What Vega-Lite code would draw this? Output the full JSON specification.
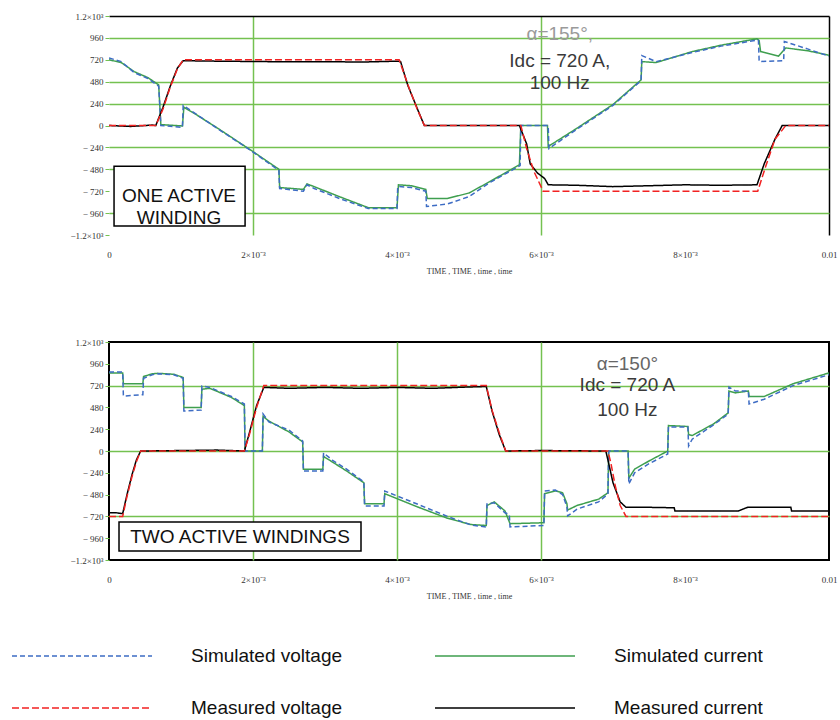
{
"$schema": "https://vega.github.io/schema/vega-lite/v6.json",
"background": "white",
"padding": {"left": 10, "top": 12, "right": 0, "bottom": 0},
"spacing": 62,
"config": {
  "view": {"stroke": null},
  "axis": {"labelFont": "Liberation Serif", "labelFontSize": 9, "labelColor": "#333", "titleFont": "Liberation Serif", "titleFontSize": 8, "titleFontWeight": "normal", "titleColor": "#333"},
  "legend": {"orient": "none", "legendX": -98, "legendY": 629, "direction": "horizontal", "columns": 2, "symbolType": "M-1,0H13", "symbolSize": 400, "labelFont": "Liberation Sans", "labelFontSize": 19, "labelColor": "#111", "labelOffset": 158, "columnPadding": 89, "rowPadding": 31, "padding": 0, "labelLimit": 300}
},
"datasets": {
"top": [
{"s":"Simulated current","t":0,"v":720},{"s":"Simulated current","t":0.00017,"v":690},{"s":"Simulated current","t":0.00035,"v":590},{"s":"Simulated current","t":0.00054,"v":525},{"s":"Simulated current","t":0.00069,"v":445},{"s":"Simulated current","t":0.0007,"v":300},{"s":"Simulated current","t":0.00072,"v":10},{"s":"Simulated current","t":0.00102,"v":-5},{"s":"Simulated current","t":0.00104,"v":200},{"s":"Simulated current","t":0.0012,"v":125},{"s":"Simulated current","t":0.0015,"v":-25},{"s":"Simulated current","t":0.00197,"v":-270},{"s":"Simulated current","t":0.00236,"v":-480},{"s":"Simulated current","t":0.00237,"v":-680},{"s":"Simulated current","t":0.0027,"v":-700},{"s":"Simulated current","t":0.00275,"v":-640},{"s":"Simulated current","t":0.00285,"v":-670},{"s":"Simulated current","t":0.0032,"v":-780},{"s":"Simulated current","t":0.0036,"v":-900},{"s":"Simulated current","t":0.004,"v":-900},{"s":"Simulated current","t":0.00402,"v":-650},{"s":"Simulated current","t":0.0042,"v":-660},{"s":"Simulated current","t":0.0044,"v":-700},{"s":"Simulated current","t":0.00442,"v":-800},{"s":"Simulated current","t":0.0047,"v":-800},{"s":"Simulated current","t":0.005,"v":-740},{"s":"Simulated current","t":0.0053,"v":-610},{"s":"Simulated current","t":0.0057,"v":-430},{"s":"Simulated current","t":0.00572,"v":0},{"s":"Simulated current","t":0.00609,"v":0},{"s":"Simulated current","t":0.0061,"v":-230},{"s":"Simulated current","t":0.0065,"v":-30},{"s":"Simulated current","t":0.007,"v":230},{"s":"Simulated current","t":0.00739,"v":500},{"s":"Simulated current","t":0.0074,"v":700},{"s":"Simulated current","t":0.0076,"v":690},{"s":"Simulated current","t":0.0081,"v":810},{"s":"Simulated current","t":0.0085,"v":880},{"s":"Simulated current","t":0.009,"v":950},{"s":"Simulated current","t":0.00903,"v":930},{"s":"Simulated current","t":0.00905,"v":810},{"s":"Simulated current","t":0.0093,"v":760},{"s":"Simulated current","t":0.0094,"v":850},{"s":"Simulated current","t":0.0097,"v":820},{"s":"Simulated current","t":0.01,"v":770},
{"s":"Simulated voltage","t":0,"v":740},{"s":"Simulated voltage","t":0.00017,"v":700},{"s":"Simulated voltage","t":0.00035,"v":580},{"s":"Simulated voltage","t":0.00054,"v":515},{"s":"Simulated voltage","t":0.00069,"v":430},{"s":"Simulated voltage","t":0.0007,"v":300},{"s":"Simulated voltage","t":0.00072,"v":0},{"s":"Simulated voltage","t":0.00102,"v":-20},{"s":"Simulated voltage","t":0.00103,"v":220},{"s":"Simulated voltage","t":0.0012,"v":130},{"s":"Simulated voltage","t":0.0015,"v":-30},{"s":"Simulated voltage","t":0.00197,"v":-274},{"s":"Simulated voltage","t":0.00236,"v":-493},{"s":"Simulated voltage","t":0.00237,"v":-690},{"s":"Simulated voltage","t":0.0027,"v":-720},{"s":"Simulated voltage","t":0.00275,"v":-650},{"s":"Simulated voltage","t":0.00285,"v":-690},{"s":"Simulated voltage","t":0.0032,"v":-800},{"s":"Simulated voltage","t":0.0036,"v":-910},{"s":"Simulated voltage","t":0.004,"v":-910},{"s":"Simulated voltage","t":0.00401,"v":-668},{"s":"Simulated voltage","t":0.0042,"v":-680},{"s":"Simulated voltage","t":0.0044,"v":-720},{"s":"Simulated voltage","t":0.00441,"v":-888},{"s":"Simulated voltage","t":0.0047,"v":-860},{"s":"Simulated voltage","t":0.005,"v":-780},{"s":"Simulated voltage","t":0.0053,"v":-620},{"s":"Simulated voltage","t":0.00571,"v":-440},{"s":"Simulated voltage","t":0.00572,"v":0},{"s":"Simulated voltage","t":0.0061,"v":0},{"s":"Simulated voltage","t":0.00611,"v":-252},{"s":"Simulated voltage","t":0.0065,"v":-40},{"s":"Simulated voltage","t":0.007,"v":220},{"s":"Simulated voltage","t":0.00739,"v":493},{"s":"Simulated voltage","t":0.0074,"v":767},{"s":"Simulated voltage","t":0.0076,"v":700},{"s":"Simulated voltage","t":0.0081,"v":800},{"s":"Simulated voltage","t":0.0085,"v":870},{"s":"Simulated voltage","t":0.009,"v":935},{"s":"Simulated voltage","t":0.00902,"v":935},{"s":"Simulated voltage","t":0.00903,"v":701},{"s":"Simulated voltage","t":0.00937,"v":710},{"s":"Simulated voltage","t":0.00938,"v":920},{"s":"Simulated voltage","t":0.0097,"v":840},{"s":"Simulated voltage","t":0.01,"v":760},
{"s":"Measured current","t":0,"v":0},{"s":"Measured current","t":0.0003,"v":-10},{"s":"Measured current","t":0.0006,"v":5},{"s":"Measured current","t":0.00065,"v":0},{"s":"Measured current","t":0.00075,"v":200},{"s":"Measured current","t":0.00085,"v":430},{"s":"Measured current","t":0.00095,"v":630},{"s":"Measured current","t":0.00103,"v":710},{"s":"Measured current","t":0.0015,"v":705},{"s":"Measured current","t":0.0022,"v":700},{"s":"Measured current","t":0.003,"v":700},{"s":"Measured current","t":0.0035,"v":695},{"s":"Measured current","t":0.004,"v":705},{"s":"Measured current","t":0.00405,"v":700},{"s":"Measured current","t":0.00415,"v":440},{"s":"Measured current","t":0.0043,"v":150},{"s":"Measured current","t":0.00438,"v":0},{"s":"Measured current","t":0.005,"v":0},{"s":"Measured current","t":0.0057,"v":0},{"s":"Measured current","t":0.0058,"v":-200},{"s":"Measured current","t":0.00585,"v":-420},{"s":"Measured current","t":0.00595,"v":-520},{"s":"Measured current","t":0.00605,"v":-580},{"s":"Measured current","t":0.0061,"v":-650},{"s":"Measured current","t":0.0065,"v":-655},{"s":"Measured current","t":0.007,"v":-670},{"s":"Measured current","t":0.0075,"v":-660},{"s":"Measured current","t":0.008,"v":-650},{"s":"Measured current","t":0.0085,"v":-655},{"s":"Measured current","t":0.009,"v":-650},{"s":"Measured current","t":0.0091,"v":-420},{"s":"Measured current","t":0.00925,"v":-150},{"s":"Measured current","t":0.00935,"v":0},{"s":"Measured current","t":0.01,"v":0},
{"s":"Measured voltage","t":0,"v":0},{"s":"Measured voltage","t":0.00065,"v":0},{"s":"Measured voltage","t":0.00075,"v":180},{"s":"Measured voltage","t":0.00085,"v":420},{"s":"Measured voltage","t":0.00095,"v":620},{"s":"Measured voltage","t":0.00103,"v":720},{"s":"Measured voltage","t":0.00403,"v":720},{"s":"Measured voltage","t":0.00415,"v":450},{"s":"Measured voltage","t":0.00428,"v":180},{"s":"Measured voltage","t":0.00438,"v":0},{"s":"Measured voltage","t":0.00572,"v":0},{"s":"Measured voltage","t":0.0058,"v":-250},{"s":"Measured voltage","t":0.0059,"v":-500},{"s":"Measured voltage","t":0.00603,"v":-720},{"s":"Measured voltage","t":0.00901,"v":-720},{"s":"Measured voltage","t":0.00912,"v":-450},{"s":"Measured voltage","t":0.00925,"v":-150},{"s":"Measured voltage","t":0.0094,"v":0},{"s":"Measured voltage","t":0.01,"v":0}
],
"bottom": [
{"s":"Simulated current","t":0,"v":860},{"s":"Simulated current","t":0.00019,"v":860},{"s":"Simulated current","t":0.0002,"v":740},{"s":"Simulated current","t":0.00047,"v":740},{"s":"Simulated current","t":0.00048,"v":820},{"s":"Simulated current","t":0.0006,"v":850},{"s":"Simulated current","t":0.00068,"v":855},{"s":"Simulated current","t":0.0009,"v":845},{"s":"Simulated current","t":0.00103,"v":810},{"s":"Simulated current","t":0.00104,"v":480},{"s":"Simulated current","t":0.00128,"v":480},{"s":"Simulated current","t":0.00129,"v":680},{"s":"Simulated current","t":0.0014,"v":690},{"s":"Simulated current","t":0.0017,"v":590},{"s":"Simulated current","t":0.00188,"v":500},{"s":"Simulated current","t":0.00189,"v":0},{"s":"Simulated current","t":0.00213,"v":0},{"s":"Simulated current","t":0.00214,"v":380},{"s":"Simulated current","t":0.00222,"v":330},{"s":"Simulated current","t":0.0025,"v":210},{"s":"Simulated current","t":0.00269,"v":100},{"s":"Simulated current","t":0.0027,"v":-200},{"s":"Simulated current","t":0.00297,"v":-200},{"s":"Simulated current","t":0.00298,"v":-60},{"s":"Simulated current","t":0.0031,"v":-120},{"s":"Simulated current","t":0.0033,"v":-220},{"s":"Simulated current","t":0.00354,"v":-350},{"s":"Simulated current","t":0.00355,"v":-580},{"s":"Simulated current","t":0.00382,"v":-580},{"s":"Simulated current","t":0.00383,"v":-470},{"s":"Simulated current","t":0.0043,"v":-620},{"s":"Simulated current","t":0.0047,"v":-740},{"s":"Simulated current","t":0.00503,"v":-810},{"s":"Simulated current","t":0.00524,"v":-820},{"s":"Simulated current","t":0.00525,"v":-600},{"s":"Simulated current","t":0.00535,"v":-560},{"s":"Simulated current","t":0.0055,"v":-660},{"s":"Simulated current","t":0.00557,"v":-800},{"s":"Simulated current","t":0.00604,"v":-790},{"s":"Simulated current","t":0.00605,"v":-470},{"s":"Simulated current","t":0.0062,"v":-440},{"s":"Simulated current","t":0.0063,"v":-460},{"s":"Simulated current","t":0.00636,"v":-580},{"s":"Simulated current","t":0.00637,"v":-650},{"s":"Simulated current","t":0.0065,"v":-600},{"s":"Simulated current","t":0.0068,"v":-530},{"s":"Simulated current","t":0.00693,"v":-460},{"s":"Simulated current","t":0.00694,"v":0},{"s":"Simulated current","t":0.00721,"v":0},{"s":"Simulated current","t":0.00722,"v":-300},{"s":"Simulated current","t":0.0073,"v":-200},{"s":"Simulated current","t":0.0075,"v":-110},{"s":"Simulated current","t":0.00776,"v":0},{"s":"Simulated current","t":0.00777,"v":280},{"s":"Simulated current","t":0.00804,"v":270},{"s":"Simulated current","t":0.00805,"v":180},{"s":"Simulated current","t":0.0081,"v":170},{"s":"Simulated current","t":0.0084,"v":300},{"s":"Simulated current","t":0.0086,"v":420},{"s":"Simulated current","t":0.00861,"v":660},{"s":"Simulated current","t":0.0087,"v":640},{"s":"Simulated current","t":0.00888,"v":660},{"s":"Simulated current","t":0.00889,"v":600},{"s":"Simulated current","t":0.0091,"v":600},{"s":"Simulated current","t":0.0095,"v":740},{"s":"Simulated current","t":0.01,"v":860},
{"s":"Simulated voltage","t":0,"v":869},{"s":"Simulated voltage","t":0.00019,"v":869},{"s":"Simulated voltage","t":0.0002,"v":605},{"s":"Simulated voltage","t":0.00047,"v":620},{"s":"Simulated voltage","t":0.00048,"v":800},{"s":"Simulated voltage","t":0.0006,"v":840},{"s":"Simulated voltage","t":0.00068,"v":850},{"s":"Simulated voltage","t":0.0009,"v":840},{"s":"Simulated voltage","t":0.00103,"v":800},{"s":"Simulated voltage","t":0.00104,"v":440},{"s":"Simulated voltage","t":0.00128,"v":450},{"s":"Simulated voltage","t":0.00129,"v":715},{"s":"Simulated voltage","t":0.0014,"v":700},{"s":"Simulated voltage","t":0.0017,"v":600},{"s":"Simulated voltage","t":0.00188,"v":517},{"s":"Simulated voltage","t":0.00189,"v":0},{"s":"Simulated voltage","t":0.00213,"v":0},{"s":"Simulated voltage","t":0.00214,"v":407},{"s":"Simulated voltage","t":0.00222,"v":320},{"s":"Simulated voltage","t":0.0025,"v":230},{"s":"Simulated voltage","t":0.00269,"v":110},{"s":"Simulated voltage","t":0.0027,"v":-220},{"s":"Simulated voltage","t":0.00297,"v":-220},{"s":"Simulated voltage","t":0.00298,"v":-20},{"s":"Simulated voltage","t":0.0031,"v":-100},{"s":"Simulated voltage","t":0.0033,"v":-200},{"s":"Simulated voltage","t":0.00354,"v":-341},{"s":"Simulated voltage","t":0.00355,"v":-605},{"s":"Simulated voltage","t":0.00382,"v":-605},{"s":"Simulated voltage","t":0.00383,"v":-440},{"s":"Simulated voltage","t":0.0043,"v":-590},{"s":"Simulated voltage","t":0.0047,"v":-720},{"s":"Simulated voltage","t":0.00503,"v":-815},{"s":"Simulated voltage","t":0.00524,"v":-836},{"s":"Simulated voltage","t":0.00525,"v":-583},{"s":"Simulated voltage","t":0.00535,"v":-570},{"s":"Simulated voltage","t":0.0055,"v":-680},{"s":"Simulated voltage","t":0.00556,"v":-700},{"s":"Simulated voltage","t":0.00557,"v":-836},{"s":"Simulated voltage","t":0.00604,"v":-820},{"s":"Simulated voltage","t":0.00605,"v":-440},{"s":"Simulated voltage","t":0.0062,"v":-430},{"s":"Simulated voltage","t":0.0063,"v":-480},{"s":"Simulated voltage","t":0.00636,"v":-616},{"s":"Simulated voltage","t":0.00637,"v":-715},{"s":"Simulated voltage","t":0.0065,"v":-640},{"s":"Simulated voltage","t":0.0068,"v":-560},{"s":"Simulated voltage","t":0.00693,"v":-473},{"s":"Simulated voltage","t":0.00694,"v":0},{"s":"Simulated voltage","t":0.00721,"v":0},{"s":"Simulated voltage","t":0.00722,"v":-363},{"s":"Simulated voltage","t":0.0073,"v":-240},{"s":"Simulated voltage","t":0.0075,"v":-140},{"s":"Simulated voltage","t":0.00776,"v":-33},{"s":"Simulated voltage","t":0.00777,"v":264},{"s":"Simulated voltage","t":0.00804,"v":264},{"s":"Simulated voltage","t":0.00805,"v":55},{"s":"Simulated voltage","t":0.0081,"v":130},{"s":"Simulated voltage","t":0.0084,"v":290},{"s":"Simulated voltage","t":0.0086,"v":407},{"s":"Simulated voltage","t":0.00861,"v":704},{"s":"Simulated voltage","t":0.0087,"v":660},{"s":"Simulated voltage","t":0.00888,"v":660},{"s":"Simulated voltage","t":0.00889,"v":517},{"s":"Simulated voltage","t":0.0091,"v":570},{"s":"Simulated voltage","t":0.0095,"v":720},{"s":"Simulated voltage","t":0.01,"v":840},
{"s":"Measured current","t":0,"v":-680},{"s":"Measured current","t":0.0001,"v":-680},{"s":"Measured current","t":0.00019,"v":-690},{"s":"Measured current","t":0.00025,"v":-480},{"s":"Measured current","t":0.00032,"v":-260},{"s":"Measured current","t":0.00038,"v":-100},{"s":"Measured current","t":0.00044,"v":0},{"s":"Measured current","t":0.001,"v":5},{"s":"Measured current","t":0.0015,"v":10},{"s":"Measured current","t":0.00188,"v":0},{"s":"Measured current","t":0.00195,"v":200},{"s":"Measured current","t":0.00205,"v":500},{"s":"Measured current","t":0.00215,"v":700},{"s":"Measured current","t":0.0025,"v":690},{"s":"Measured current","t":0.003,"v":700},{"s":"Measured current","t":0.0035,"v":690},{"s":"Measured current","t":0.004,"v":700},{"s":"Measured current","t":0.0045,"v":690},{"s":"Measured current","t":0.005,"v":705},{"s":"Measured current","t":0.00524,"v":710},{"s":"Measured current","t":0.00532,"v":440},{"s":"Measured current","t":0.00542,"v":180},{"s":"Measured current","t":0.00551,"v":0},{"s":"Measured current","t":0.006,"v":5},{"s":"Measured current","t":0.0069,"v":0},{"s":"Measured current","t":0.00693,"v":-100},{"s":"Measured current","t":0.007,"v":-350},{"s":"Measured current","t":0.0071,"v":-560},{"s":"Measured current","t":0.00718,"v":-620},{"s":"Measured current","t":0.0075,"v":-620},{"s":"Measured current","t":0.00785,"v":-625},{"s":"Measured current","t":0.00786,"v":-660},{"s":"Measured current","t":0.00874,"v":-660},{"s":"Measured current","t":0.00887,"v":-620},{"s":"Measured current","t":0.00947,"v":-620},{"s":"Measured current","t":0.00948,"v":-660},{"s":"Measured current","t":0.01,"v":-660},
{"s":"Measured voltage","t":0,"v":-720},{"s":"Measured voltage","t":0.00019,"v":-720},{"s":"Measured voltage","t":0.00025,"v":-500},{"s":"Measured voltage","t":0.00032,"v":-280},{"s":"Measured voltage","t":0.00038,"v":-120},{"s":"Measured voltage","t":0.00044,"v":0},{"s":"Measured voltage","t":0.00188,"v":0},{"s":"Measured voltage","t":0.00195,"v":180},{"s":"Measured voltage","t":0.00205,"v":480},{"s":"Measured voltage","t":0.00215,"v":720},{"s":"Measured voltage","t":0.00524,"v":720},{"s":"Measured voltage","t":0.00532,"v":450},{"s":"Measured voltage","t":0.00542,"v":200},{"s":"Measured voltage","t":0.00551,"v":0},{"s":"Measured voltage","t":0.00693,"v":0},{"s":"Measured voltage","t":0.00697,"v":-130},{"s":"Measured voltage","t":0.00703,"v":-380},{"s":"Measured voltage","t":0.0071,"v":-600},{"s":"Measured voltage","t":0.00718,"v":-720},{"s":"Measured voltage","t":0.01,"v":-720}
]
},
"vconcat": [
{
  "width": 720, "height": 219,
  "view": {"stroke": null},
  "layer": [
    {
      "data": {"name": "top"},
      "mark": {"type": "line", "clip": true},
      "encoding": {
        "x": {"field": "t", "type": "quantitative", "scale": {"domain": [0, 0.01], "nice": false, "zero": false},
          "axis": {"values": [0, 0.002, 0.004, 0.006, 0.008, 0.01], "tickCount": 20, "labelExpr": "datum.value == 0 ? '0' : datum.value > 0.0099 ? '0.01' : format(datum.value*1000, '.0f') + '×10⁻³'", "title": "TIME , TIME , time , time", "ticks": false, "domain": false, "labelPadding": 15, "titlePadding": 8, "labelFlush": false, "labelOverlap": false, "grid": true,
            "gridColor": {"condition": {"test": "datum.value > 0.0099", "value": "black"}, "value": "#74c150"},
            "gridOpacity": {"condition": {"test": "datum.value == 0.002 || datum.value == 0.006 || datum.value > 0.0099", "value": 1}, "value": 0},
            "gridWidth": 1.5}},
        "y": {"field": "v", "type": "quantitative", "scale": {"domain": [-1200, 1200], "nice": false},
          "axis": {"values": [-1200, -960, -720, -480, -240, 0, 240, 480, 720, 960, 1200], "tickCount": 20, "labelExpr": "datum.value == 1200 ? '1.2×10³' : datum.value == -1200 ? '−1.2×10³' : datum.value < 0 ? '− ' + format(-datum.value, 'd') : format(datum.value, 'd')", "title": null, "domain": false, "tickColor": "#74c150", "tickSize": 4, "labelPadding": 2, "minExtent": 98, "maxExtent": 98, "labelOverlap": false, "labelFlush": false, "grid": true,
            "gridColor": {"condition": {"test": "datum.value == 1200", "value": "black"}, "value": "#74c150"},
            "gridOpacity": {"condition": {"test": "datum.value == 0 || datum.value == 720 || datum.value == -720 || datum.value == -1200", "value": 0}, "value": 1},
            "gridWidth": 1.5}},
        "color": {"field": "s", "type": "nominal", "scale": {"domain": ["Simulated voltage", "Simulated current", "Measured voltage", "Measured current"], "range": ["#3d6cc4", "#3f9f4f", "#f22222", "#000000"]}, "legend": {"title": null}},
        "strokeDash": {"field": "s", "type": "nominal", "scale": {"domain": ["Simulated voltage", "Simulated current", "Measured voltage", "Measured current"], "range": [[5, 3], [1, 0], [7, 3], [1, 0]]}, "legend": {"title": null}},
        "strokeWidth": {"field": "s", "type": "nominal", "scale": {"domain": ["Simulated voltage", "Simulated current", "Measured voltage", "Measured current"], "range": [1.5, 1.5, 3, 2.5]}, "legend": {"title": null}}
      }
    },
    {
      "data": {"values": [{}]},
      "mark": {"type": "rect", "fill": "white", "stroke": "black", "strokeWidth": 1.5},
      "encoding": {"x": {"datum": 0.00007}, "x2": {"datum": 0.00189}, "y": {"datum": -447}, "y2": {"datum": -1102}}
    },
    {
      "data": {"values": [{}]},
      "mark": {"type": "text", "text": ["ONE ACTIVE", "WINDING"], "font": "Liberation Sans", "fontSize": 19, "lineHeight": 22, "color": "#111", "align": "center", "baseline": "middle"},
      "encoding": {"x": {"datum": 0.000972}, "y": {"datum": -770}}
    },
    {
      "data": {"values": [{}]},
      "mark": {"type": "text", "text": "α=155°,", "font": "Liberation Sans", "fontSize": 19, "color": "#9a9a9a", "align": "center", "baseline": "middle"},
      "encoding": {"x": {"datum": 0.00626}, "y": {"datum": 1008}}
    },
    {
      "data": {"values": [{}]},
      "mark": {"type": "text", "text": "Idc = 720 A,", "font": "Liberation Sans", "fontSize": 19, "color": "#3a3a3a", "align": "center", "baseline": "middle"},
      "encoding": {"x": {"datum": 0.00626}, "y": {"datum": 712}}
    },
    {
      "data": {"values": [{}]},
      "mark": {"type": "text", "text": "100 Hz", "font": "Liberation Sans", "fontSize": 19, "color": "#3a3a3a", "align": "center", "baseline": "middle"},
      "encoding": {"x": {"datum": 0.00626}, "y": {"datum": 471}}
    }
  ]
},
{
  "width": 720, "height": 218,
  "view": {"stroke": "black", "strokeWidth": 2},
  "layer": [
    {
      "data": {"name": "bottom"},
      "mark": {"type": "line", "clip": true},
      "encoding": {
        "x": {"field": "t", "type": "quantitative", "scale": {"domain": [0, 0.01], "nice": false, "zero": false},
          "axis": {"values": [0, 0.002, 0.004, 0.006, 0.008, 0.01], "tickCount": 20, "labelExpr": "datum.value == 0 ? '0' : datum.value > 0.0099 ? '0.01' : format(datum.value*1000, '.0f') + '×10⁻³'", "title": "TIME , TIME , time , time", "ticks": false, "domain": false, "labelPadding": 15, "titlePadding": 8, "labelFlush": false, "labelOverlap": false, "grid": true,
            "gridColor": "#74c150",
            "gridOpacity": {"condition": {"test": "datum.value == 0.002 || datum.value == 0.004 || datum.value == 0.006", "value": 1}, "value": 0},
            "gridWidth": 1.5}},
        "y": {"field": "v", "type": "quantitative", "scale": {"domain": [-1200, 1200], "nice": false},
          "axis": {"values": [-1200, -960, -720, -480, -240, 0, 240, 480, 720, 960, 1200], "tickCount": 20, "labelExpr": "datum.value == 1200 ? '1.2×10³' : datum.value == -1200 ? '−1.2×10³' : datum.value < 0 ? '− ' + format(-datum.value, 'd') : format(datum.value, 'd')", "title": null, "domain": false, "tickColor": "#74c150", "tickSize": 4, "labelPadding": 2, "minExtent": 98, "maxExtent": 98, "labelOverlap": false, "labelFlush": false, "grid": true,
            "gridColor": "#74c150",
            "gridOpacity": {"condition": {"test": "datum.value == 0 || datum.value == 720 || datum.value == -720", "value": 1}, "value": 0},
            "gridWidth": 1.5}},
        "color": {"field": "s", "type": "nominal", "scale": {"domain": ["Simulated voltage", "Simulated current", "Measured voltage", "Measured current"], "range": ["#3d6cc4", "#3f9f4f", "#f22222", "#000000"]}, "legend": {"title": null}},
        "strokeDash": {"field": "s", "type": "nominal", "scale": {"domain": ["Simulated voltage", "Simulated current", "Measured voltage", "Measured current"], "range": [[5, 3], [1, 0], [7, 3], [1, 0]]}, "legend": {"title": null}},
        "strokeWidth": {"field": "s", "type": "nominal", "scale": {"domain": ["Simulated voltage", "Simulated current", "Measured voltage", "Measured current"], "range": [1.5, 1.5, 3, 2.5]}, "legend": {"title": null}}
      }
    },
    {
      "data": {"values": [{}]},
      "mark": {"type": "rect", "fill": "white", "stroke": "black", "strokeWidth": 1.5},
      "encoding": {"x": {"datum": 0.000139}, "x2": {"datum": 0.0035}, "y": {"datum": -781}, "y2": {"datum": -1100}}
    },
    {
      "data": {"values": [{}]},
      "mark": {"type": "text", "text": "TWO ACTIVE WINDINGS", "font": "Liberation Sans", "fontSize": 19, "color": "#111", "align": "center", "baseline": "middle"},
      "encoding": {"x": {"datum": 0.00182}, "y": {"datum": -946}}
    },
    {
      "data": {"values": [{}]},
      "mark": {"type": "text", "text": "α=150°", "font": "Liberation Sans", "fontSize": 19, "color": "#666", "align": "center", "baseline": "middle"},
      "encoding": {"x": {"datum": 0.0072}, "y": {"datum": 957}}
    },
    {
      "data": {"values": [{}]},
      "mark": {"type": "text", "text": "Idc = 720 A", "font": "Liberation Sans", "fontSize": 19, "color": "#3a3a3a", "align": "center", "baseline": "middle"},
      "encoding": {"x": {"datum": 0.0072}, "y": {"datum": 726}}
    },
    {
      "data": {"values": [{}]},
      "mark": {"type": "text", "text": "100 Hz", "font": "Liberation Sans", "fontSize": 19, "color": "#3a3a3a", "align": "center", "baseline": "middle"},
      "encoding": {"x": {"datum": 0.0072}, "y": {"datum": 451}}
    }
  ]
}
]
}
